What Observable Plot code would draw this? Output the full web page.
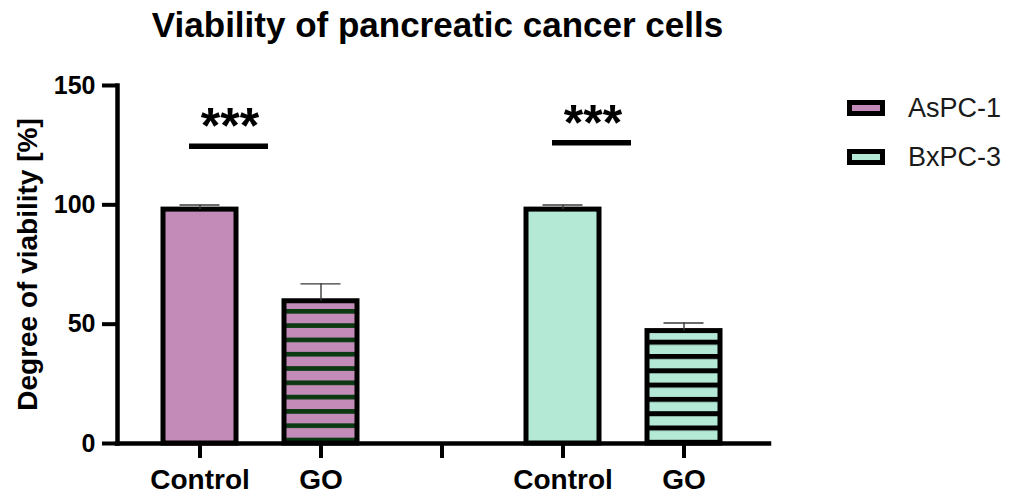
<!DOCTYPE html>
<html>
<head>
<meta charset="utf-8">
<script src="https://cdn.jsdelivr.net/npm/d3@7"></script>
<script src="https://cdn.jsdelivr.net/npm/@observablehq/plot@0.6"></script>
<style>
  body { margin: 0; background: #fff; font-family: "Liberation Sans", Arial, sans-serif; }
  #wrap { position: relative; width: 1016px; height: 502px; overflow: hidden; background: #fff; }
  #title { box-sizing: border-box; height: 60px; width: 875px; padding-top: 5px; line-height: 40px;
           font-size: 35px; font-weight: bold; text-align: center; color: #000; }
  #legend { position: absolute; left: 847px; top: 0; width: 169px; height: 200px; }
  .sw { position: absolute; left: 0; width: 38px; height: 16px; box-sizing: border-box; border: 5px solid #000; }
  .lbl { position: absolute; left: 61px; font-size: 27px; line-height: 30px; color: #1a1a1a; white-space: nowrap; }
  g[aria-label="significance"] text { letter-spacing: 2.5px; }
</style>
</head>
<body>
<div id="wrap">
  <div id="title">Viability of pancreatic cancer cells</div>
  <div id="chart"></div>
  <div id="legend"></div>
</div>
<script>
// ---- data ----
const cellLines = ["AsPC-1", "BxPC-3"];
const treatments = ["Control", "GO"];
const aspcMeans = [98.0, 59.6];
const aspcErrors = [1.9, 7.3];
const bxpcMeans = [98.0, 47.1];
const bxpcErrors = [1.9, 3.4];
const sigLabels = ["***", "***"];
const sigHeights = [124.5, 126.0];
const yTicks = [0, 50, 100, 150];
const yLabel = "Degree of viability [%]";

// ---- styles ----
const solidFills = ["#c38bb8", "#b4e9d6"];
const stripeInk = ["#0b3a12", "#000000"];

// ---- build table ----
const means = [aspcMeans, bxpcMeans];
const errors = [aspcErrors, bxpcErrors];
const rows = cellLines.flatMap((line, i) =>
  treatments.map((t, j) => ({key: line + "|" + t, line, treatment: t, mean: means[i][j], err: errors[i][j]}))
);
const gapKey = "gap";
const xDomain = [rows[0].key, rows[1].key, gapKey, rows[2].key, rows[3].key];
const sig = cellLines.map((line, i) => ({
  from: line + "|" + treatments[0], to: line + "|" + treatments[1], y: sigHeights[i], label: sigLabels[i]
}));
const tickLabel = k => (k === gapKey ? "" : k.split("|")[1]);

const barMarks = [];
cellLines.forEach((line, i) => {
  treatments.forEach((t, j) => {
    barMarks.push(Plot.barY(rows.filter(r => r.line === line && r.treatment === t), {
      x: "key", y: "mean",
      fill: j === 0 ? solidFills[i] : `url(#stripe${i})`,
      stroke: "#000", strokeWidth: 5
    }));
  });
});

const chart = Plot.plot({
  width: 1016, height: 442,
  marginLeft: 117, marginRight: 247, marginTop: 25, marginBottom: 59,
  style: {fontFamily: '"Liberation Sans", Arial, sans-serif', color: "#000", background: "transparent", overflow: "visible"},
  x: {type: "band", domain: xDomain, paddingInner: 0.393, paddingOuter: 0.369, align: 0.486, axis: null},
  y: {domain: [0, 150], axis: null},
  marks: [
    ...barMarks,
    Plot.ruleX(rows, {x: "key", y1: "mean", y2: d => d.mean + d.err, stroke: "#3a3a3a", strokeWidth: 1.4}),
    Plot.tickY(rows, {x: "key", y: d => d.mean + d.err, stroke: "#3a3a3a", strokeWidth: 1.4, inset: 16.5}),
    Plot.ruleY(sig, {x1: "from", x2: "to", y: "y", stroke: "#000", strokeWidth: 5.5, insetLeft: 26, insetRight: 89}),
    Plot.text(sig, {x: "from", y: "y", text: "label", dx: 30, dy: -19, fontSize: 50, fontWeight: "bold", fill: "#000", ariaLabel: "significance"}),
    Plot.axisY({ticks: yTicks, tickSize: 15, tickPadding: 7, strokeWidth: 4, fontSize: 25, fontWeight: "bold", tickFormat: d3.format("d")}),
    Plot.axisX({tickSize: 15, tickPadding: 11, strokeWidth: 4, fontSize: 28, fontWeight: "bold", tickFormat: tickLabel}),
    Plot.text([yLabel], {text: d => d, frameAnchor: "left", textAnchor: "middle", rotate: -90, dx: -89, fontSize: 28, fontWeight: "bold", fill: "#000"}),
    Plot.frame({anchor: "left", stroke: "#000", strokeWidth: 4.5, strokeLinecap: "square"}),
    Plot.ruleY([0], {stroke: "#000", strokeWidth: 4.5, strokeLinecap: "square"})
  ]
});

// ---- stripe patterns aligned to the baseline ----
const ns = "http://www.w3.org/2000/svg";
const base = chart.scale("y").apply(0);
const period = 14.3;
const stripeSpecs = [
  {thick: 4.7, centerOffset: 3.0},
  {thick: 5.0, centerOffset: 15.0}
];
const defs = document.createElementNS(ns, "defs");
stripeSpecs.forEach((s, i) => {
  const p = document.createElementNS(ns, "pattern");
  p.setAttribute("id", "stripe" + i);
  p.setAttribute("patternUnits", "userSpaceOnUse");
  p.setAttribute("x", 0);
  p.setAttribute("y", base - s.centerOffset - s.thick / 2);
  p.setAttribute("width", 20);
  p.setAttribute("height", period);
  const bg = document.createElementNS(ns, "rect");
  bg.setAttribute("width", 20); bg.setAttribute("height", period); bg.setAttribute("fill", solidFills[i]);
  const fg = document.createElementNS(ns, "rect");
  fg.setAttribute("width", 20); fg.setAttribute("height", s.thick); fg.setAttribute("fill", stripeInk[i]);
  p.appendChild(bg); p.appendChild(fg);
  defs.appendChild(p);
});
chart.insertBefore(defs, chart.firstChild);
document.getElementById("chart").appendChild(chart);

// ---- legend ----
const legend = document.getElementById("legend");
const rowCenters = [108, 157];
cellLines.forEach((line, i) => {
  const sw = document.createElement("div");
  sw.className = "sw";
  sw.style.top = (rowCenters[i] - 8) + "px";
  sw.style.background = solidFills[i];
  const lb = document.createElement("div");
  lb.className = "lbl";
  lb.style.top = (rowCenters[i] - 14.75) + "px";
  lb.textContent = line;
  legend.appendChild(sw);
  legend.appendChild(lb);
});
</script>
</body>
</html>
